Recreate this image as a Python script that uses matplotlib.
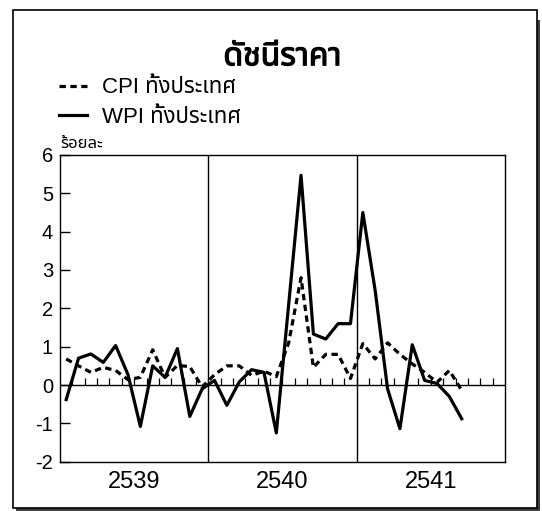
import matplotlib
matplotlib.use('Agg')
import matplotlib.pyplot as plt
import matplotlib.patheffects as pe
from matplotlib import font_manager
from matplotlib.ft2font import FT2Font
from matplotlib.patches import Rectangle
import numpy as np

# ข้อมูล: อัตราเปลี่ยนแปลงรายเดือน (ร้อยละ) ม.ค. 2539 - ก.ย. 2541
years = ['2539', '2540', '2541']
months_per_year = 12
cpi = [0.68, 0.50, 0.33, 0.46, 0.38, 0.14, 0.20, 0.92, 0.20, 0.51, 0.48, -0.05,
       0.27, 0.50, 0.50, 0.25, 0.36, 0.22, 1.10, 2.80, 0.46, 0.80, 0.80, 0.17,
       1.08, 0.68, 1.10, 0.80, 0.55, 0.33, 0.07, 0.38, -0.14]
wpi = [-0.38, 0.70, 0.81, 0.59, 1.03, 0.27, -1.08, 0.50, 0.20, 0.95, -0.82, -0.10,
       0.12, -0.53, 0.08, 0.40, 0.33, -1.25, 2.10, 5.47, 1.33, 1.20, 1.60, 1.60,
       4.50, 2.46, -0.10, -1.14, 1.05, 0.12, 0.04, -0.30, -0.88]
y_ticks = [-2, -1, 0, 1, 2, 3, 4, 5, 6]


def find_thai_font():
    """หาฟอนต์ที่มีอักษรไทย"""
    preferred = ['Tahoma', 'Noto Sans Thai', 'Loma', 'Garuda', 'Sarabun', 'Tlwg Typo']
    found = []
    for f in font_manager.fontManager.ttflist:
        try:
            if FT2Font(f.fname).get_char_index(0x0E14):
                found.append(f.name)
        except Exception:
            pass
    for name in preferred:
        if name in found:
            return name
    return found[0] if found else None


thai = find_thai_font()
families = ['Liberation Sans']
if thai:
    families.append(thai)
families.append('DejaVu Sans')
plt.rcParams['font.family'] = families
plt.rcParams['axes.unicode_minus'] = False

fig = plt.figure(figsize=(5.42, 5.11), dpi=100)

# กรอบนอกพร้อมเงา
fig.patches.append(Rectangle((0.030, 0.000), 0.966, 0.960, transform=fig.transFigure,
                             facecolor='#404040', edgecolor='none', zorder=0))
fig.patches.append(Rectangle((0.024, 0.006), 0.966, 0.974, transform=fig.transFigure,
                             facecolor='white', edgecolor='black', linewidth=1.2, zorder=1))

ax = fig.add_axes([0.1107, 0.0965, 0.821, 0.6002])
ax.set_zorder(2)
ax.patch.set_alpha(0)

n = len(cpi)
x = np.arange(n) + 0.5
ax.plot(x, cpi, color='black', linewidth=2.3, dashes=(2.0, 1.4), label='CPI ทั้งประเทศ')
ax.plot(x, wpi, color='black', linewidth=2.3, label='WPI ทั้งประเทศ')

total = months_per_year * len(years)
ax.set_xlim(0, total)
ax.set_ylim(-2, 6)

# เส้นแบ่งปี และเส้นศูนย์
for i in range(1, len(years)):
    ax.axvline(i * months_per_year, color='black', linewidth=1.0)
ax.axhline(0, color='black', linewidth=1.0)
ax.vlines(np.arange(1, total), 0, 0.18, color='black', linewidth=0.9)

ax.set_yticks(y_ticks)
ax.tick_params(axis='y', direction='in', length=7, width=1, labelsize=14.5, pad=5)
ax.set_xticks([(i + 0.5) * months_per_year for i in range(len(years))])
ax.set_xticklabels(years, fontsize=17)
ax.tick_params(axis='x', length=0, pad=7)
for s in ax.spines.values():
    s.set_linewidth(1.0)

fig.text(0.521, 0.888, 'ดัชนีราคา', ha='center', va='center', fontsize=23, fontweight='bold',
         path_effects=[pe.withStroke(linewidth=0.9, foreground='black')])
fig.text(0.111, 0.72, 'ร้อยละ', ha='left', va='center', fontsize=12)
fig.legend(loc='upper left', bbox_to_anchor=(0.092, 0.866), frameon=False, fontsize=16,
           handlelength=1.25, handletextpad=0.7, labelspacing=0.4, borderaxespad=0)

plt.savefig('out.png', dpi=100)
